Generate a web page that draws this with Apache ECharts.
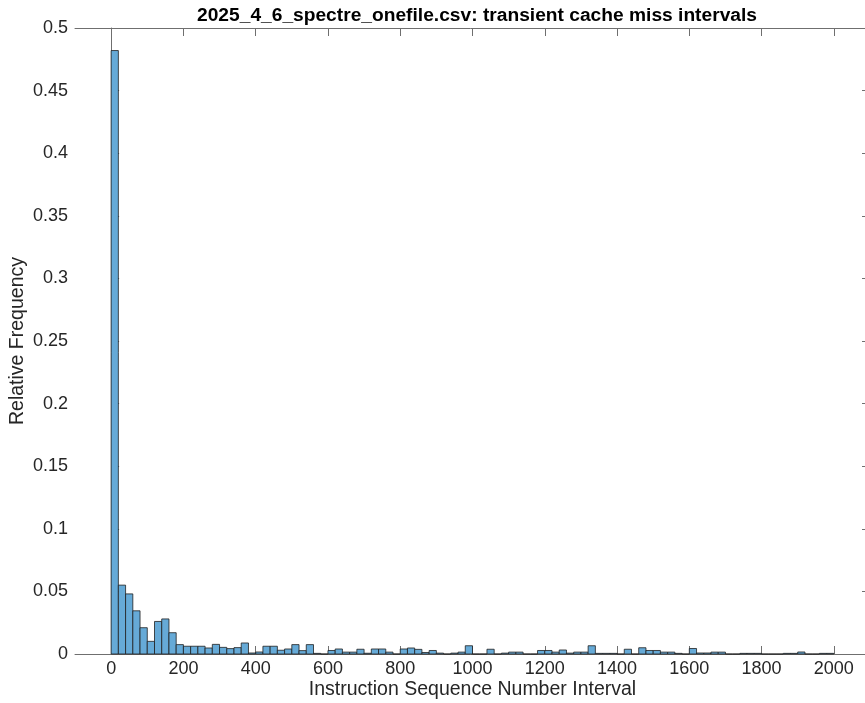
<!DOCTYPE html>
<html>
<head>
<meta charset="utf-8">
<script src="https://cdn.jsdelivr.net/npm/echarts@6/dist/echarts.min.js"></script>
<style>
  html, body { margin: 0; padding: 0; background: #fff; }
  #chart { width: 865px; height: 703px; }
</style>
</head>
<body>
<div id="chart"></div>
<script>
// Histogram of transient cache miss intervals (bin width 20)
const binStart = 0;
const binWidth = 20;
const relFreq = [
  0.482, 0.055, 0.048, 0.0345, 0.021, 0.0101, 0.026, 0.028, 0.017, 0.0075,
  0.0062, 0.0062, 0.0062, 0.0048, 0.0077, 0.0053, 0.0043, 0.0051, 0.0088, 0.0008,
  0.0016, 0.0062, 0.0062, 0.003, 0.004, 0.0075, 0.0027, 0.0075, 0.0005, 0,
  0.0028, 0.004, 0.0015, 0.0015, 0.0038, 0.0006, 0.004, 0.004, 0.0015, 0,
  0.004, 0.0048, 0.0037, 0.0012, 0.0028, 0.0007, 0, 0.0007, 0.0015, 0.0066,
  0, 0, 0.0038, 0, 0.0007, 0.0015, 0.0015, 0, 0, 0.0028,
  0.0028, 0.0015, 0.0032, 0.0007, 0.0015, 0.0015, 0.0066, 0.0005, 0.0005, 0.0005,
  0, 0.0038, 0, 0.005, 0.0028, 0.0028, 0.0015, 0.0015, 0.0005, 0,
  0.0044, 0.0008, 0.0008, 0.0015, 0.0015, 0, 0, 0.0005, 0.0005, 0.0005,
  0, 0, 0, 0.0005, 0.0005, 0.0016, 0, 0, 0.0005, 0.0005
];
const xTicks = [0, 200, 400, 600, 800, 1000, 1200, 1400, 1600, 1800, 2000];
const titleText = '2025_4_6_spectre_onefile.csv: transient cache miss intervals';
const xName = 'Instruction Sequence Number Interval';
const yName = 'Relative Frequency';

const bins = relFreq.map((v, i) => [binStart + i * binWidth, binStart + (i + 1) * binWidth, v]);

const FONT = 'Liberation Sans';
const AXIS_COLOR = '#262626';
const LINE_COLOR = '#6f6f6f';

const chart = echarts.init(document.getElementById('chart'));
chart.setOption({
  animation: false,
  backgroundColor: '#ffffff',
  title: {
    text: titleText,
    left: 472, top: 1, textAlign: 'center',
    textStyle: { fontFamily: FONT, fontWeight: 'bold', fontSize: 19.2, color: '#000' }
  },
  grid: { left: 75, right: -5, top: 28, bottom: 49, outerBoundsMode: 'none', containLabel: false },
  xAxis: [{
    type: 'value', min: -100, max: 2100, position: 'bottom',
    name: xName, nameLocation: 'middle', nameGap: 26, nameMoveOverlap: false,
    nameTextStyle: { fontFamily: FONT, fontSize: 19.5, color: AXIS_COLOR },
    axisLine: { show: true, lineStyle: { color: LINE_COLOR, width: 1 } },
    axisTick: { show: true, inside: true, length: 8, customValues: xTicks, lineStyle: { color: LINE_COLOR } },
    axisLabel: {
      customValues: xTicks, fontFamily: FONT, fontSize: 18, color: AXIS_COLOR, margin: 6,
      formatter: v => String(v)
    },
    splitLine: { show: false }
  }, {
    type: 'value', min: -100, max: 2100, position: 'top',
    axisLine: { show: true, onZero: false, lineStyle: { color: LINE_COLOR, width: 1 } },
    axisTick: { show: true, inside: true, length: 8, customValues: xTicks, lineStyle: { color: LINE_COLOR } },
    axisLabel: { show: false },
    splitLine: { show: false }
  }],
  yAxis: [{
    type: 'value', min: 0, max: 0.5, interval: 0.05, position: 'left',
    name: yName, nameLocation: 'middle', nameGap: 47, nameMoveOverlap: false,
    nameTextStyle: { fontFamily: FONT, fontSize: 19.5, color: AXIS_COLOR },
    axisLine: { show: true, lineStyle: { color: LINE_COLOR, width: 1 } },
    axisTick: { show: true, inside: true, length: 8, lineStyle: { color: LINE_COLOR } },
    axisLabel: { fontFamily: FONT, fontSize: 18, color: AXIS_COLOR, margin: 7 },
    splitLine: { show: false }
  }, {
    type: 'value', min: 0, max: 0.5, interval: 0.05, position: 'right',
    axisLine: { show: true, onZero: false, lineStyle: { color: LINE_COLOR, width: 1 } },
    axisTick: { show: true, inside: true, length: 8, lineStyle: { color: LINE_COLOR } },
    axisLabel: { show: false },
    splitLine: { show: false }
  }],
  series: [{
    type: 'custom',
    xAxisIndex: 0, yAxisIndex: 0,
    data: bins,
    encode: { x: [0, 1], y: 2 },
    renderItem: function (params, api) {
      const topLeft = api.coord([api.value(0), api.value(2)]);
      const bottomRight = api.coord([api.value(1), 0]);
      return {
        type: 'rect',
        shape: {
          x: topLeft[0], y: topLeft[1],
          width: bottomRight[0] - topLeft[0],
          height: bottomRight[1] - topLeft[1]
        },
        style: { fill: '#66aad7', stroke: '#1f1f1f', lineWidth: 0.8 }
      };
    }
  }]
});
</script>
</body>
</html>
